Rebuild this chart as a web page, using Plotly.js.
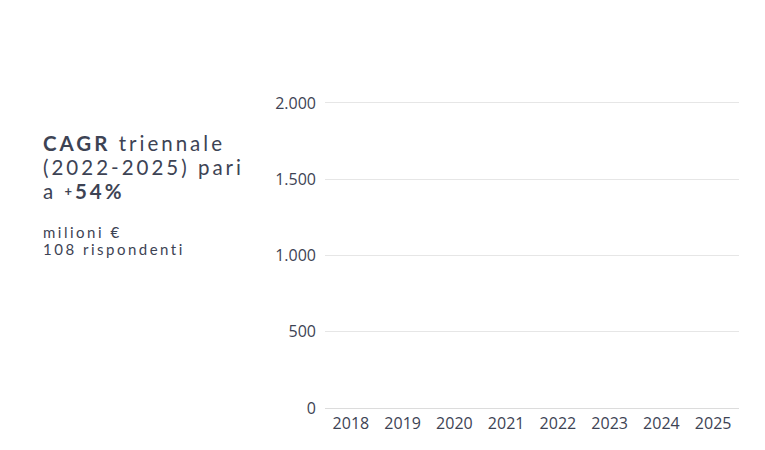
<!DOCTYPE html>
<html>
<head>
<meta charset="utf-8">
<script src="https://cdn.plot.ly/plotly-3.0.1.min.js"></script>
<style>
html,body{margin:0;padding:0;background:#fff;}
#chart{width:765px;height:450px;}
</style>
</head>
<body>
<div id="chart"></div>
<script>
// Data as shown in the picture (bars not drawn yet: all at zero height)
const years = ["2018","2019","2020","2021","2022","2023","2024","2025"];
const values = [0,0,0,0,0,0,0,0];
const yTicks = [0,500,1000,1500,2000];
const headlineText = "<b>CAGR</b> triennale<br>(2022-2025) pari<br>a <span style='font-size:13px;baseline-shift:3px'><b>+</b></span><b>54%</b>";
const subText = "milioni €<br>108 rispondenti";

const textColor = "#3d4354";
const L = 325, R = 26, T = 101, B = 42;
const plotW = 765 - L - R, plotH = 450 - T - B;
function px(x){ return (x - L) / plotW; }
function py(y){ return (450 - B - y) / plotH; }

const annotations = [
  {text:headlineText, xref:'paper', yref:'paper', x:px(41), y:py(129),
    xanchor:'left', yanchor:'top', showarrow:false, align:'left',
    font:{family:'Lato, sans-serif', size:20.5, color:textColor, weight:400}},
  {text:subText, xref:'paper', yref:'paper', x:px(41), y:py(221),
    xanchor:'left', yanchor:'top', showarrow:false, align:'left',
    font:{family:'Lato, sans-serif', size:15, color:textColor, weight:400}}
];

Plotly.newPlot('chart', [{
  type:'bar', x:years, y:values, marker:{color:'#2f3b52'}, hoverinfo:'none'
}], {
  width:765, height:450,
  margin:{l:L, r:R, t:T, b:B, pad:0},
  paper_bgcolor:'#ffffff', plot_bgcolor:'#ffffff',
  separators:',.',
  showlegend:false,
  xaxis:{type:'category', showgrid:false, zeroline:false, showline:false, ticks:'',
    ticklabelstandoff:4,
    tickfont:{family:'Open Sans, sans-serif', size:16, color:textColor}, fixedrange:true},
  yaxis:{range:[0,2013], tickvals:yTicks, tickformat:',d', showgrid:true, gridcolor:'#e6e6e6', gridwidth:1,
    zeroline:true, zerolinecolor:'#dcdcdc', zerolinewidth:1, showline:false,
    ticks:'', ticklabelstandoff:8,
    tickfont:{family:'Open Sans, sans-serif', size:16, color:textColor}, fixedrange:true},
  annotations:annotations
}, {displayModeBar:false, staticPlot:true}).then(function(gd){
  const specs = [{ls:3.0, lh:24.2/20.5}, {ls:2.5, lh:17.4/15}];
  gd.querySelectorAll('.annotation-text').forEach(function(t, i){
    const s = specs[i] || specs[0];
    t.style.letterSpacing = s.ls + 'px';
    t.querySelectorAll('tspan.line').forEach(function(ln, k){
      ln.setAttribute('dy', (k * s.lh) + 'em');
    });
  });
});
</script>
</body>
</html>
